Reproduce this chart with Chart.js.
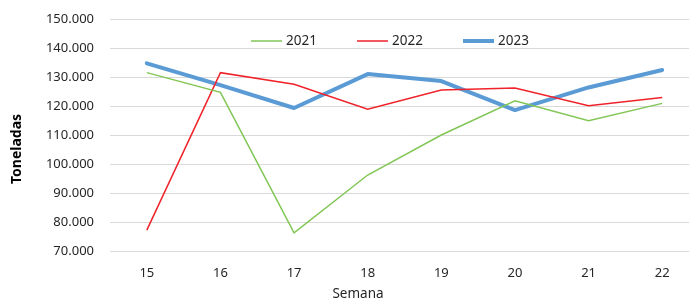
<!DOCTYPE html>
<html>
<head>
<meta charset="utf-8">
<script src="https://cdn.jsdelivr.net/npm/chart.js@4"></script>
<style>
  html, body { margin: 0; padding: 0; background: #fff; overflow: hidden; width: 689px; height: 301px; }
  #wrap { position: relative; width: 700px; height: 301px; }
</style>
</head>
<body>
<div id="wrap"><canvas id="c" width="700" height="301"></canvas></div>
<script>
const weeks = ['15', '16', '17', '18', '19', '20', '21', '22'];
const t2021 = [131500, 124700, 76300, 96200, 110000, 121800, 114900, 120900];
const t2022 = [77200, 131500, 127500, 118900, 125500, 126200, 120100, 122900];
const t2023 = [134700, 127200, 119300, 131000, 128600, 118600, 126400, 132400];
const yTicks = [70000, 80000, 90000, 100000, 110000, 120000, 130000, 140000, 150000];
const xTitle = 'Semana';
const yTitle = 'Toneladas';

const FONT = '"Noto Sans", "Open Sans", sans-serif';
const TXT = '#262626';

function fmt(v) {
  return String(v).replace(/\B(?=(\d{3})+(?!\d))/g, '.');
}

const legendPlugin = {
  id: 'innerLegend',
  afterDatasetsDraw(chart) {
    const ctx = chart.ctx;
    const ds = chart.data.datasets;
    const itemW = 106, lineLen = 31, gap = 4;
    const total = itemW * (ds.length - 1) + lineLen + gap + 31;
    let x = 390 - total / 2;
    const y = 41;
    ctx.save();
    ctx.font = '13.5px ' + FONT;
    ctx.textBaseline = 'middle';
    ctx.textAlign = 'left';
    ds.forEach(d => {
      ctx.strokeStyle = d.borderColor;
      ctx.lineWidth = d.borderWidth;
      ctx.lineCap = 'butt';
      ctx.beginPath();
      ctx.moveTo(x, y);
      ctx.lineTo(x + lineLen, y);
      ctx.stroke();
      ctx.fillStyle = TXT;
      ctx.fillText(d.label, x + lineLen + gap, y + 0.5);
      x += itemW;
    });
    ctx.restore();
  }
};

const axisTitlePlugin = {
  id: 'axisTitles',
  afterDraw(chart) {
    const ctx = chart.ctx;
    ctx.save();
    ctx.font = '13.5px ' + FONT;
    ctx.fillStyle = TXT;
    ctx.textAlign = 'center';
    ctx.textBaseline = 'middle';
    ctx.fillText(xTitle, 358, 294);
    ctx.translate(17.5, 149);
    ctx.rotate(-Math.PI / 2);
    ctx.font = 'bold 14px ' + FONT;
    ctx.fillStyle = '#000';
    ctx.fillText(yTitle, 0, 0);
    ctx.restore();
  }
};

new Chart(document.getElementById('c'), {
  type: 'line',
  data: {
    labels: weeks,
    datasets: [
      { label: '2021', data: t2021, borderColor: '#82c656', borderWidth: 1.5, pointRadius: 0, tension: 0, fill: false },
      { label: '2022', data: t2022, borderColor: '#f0222a', borderWidth: 1.5, pointRadius: 0, tension: 0, fill: false },
      { label: '2023', data: t2023, borderColor: '#5b9bd5', borderWidth: 4, pointRadius: 0, tension: 0, fill: false, borderCapStyle: 'round', borderJoinStyle: 'round' }
    ]
  },
  options: {
    responsive: false,
    animation: false,
    devicePixelRatio: 1,
    layout: { padding: { top: 19, right: 1, bottom: 0, left: 0 } },
    plugins: {
      legend: { display: false },
      tooltip: { enabled: false },
      title: { display: false }
    },
    scales: {
      x: {
        offset: true,
        grid: { display: false, drawTicks: false },
        border: { display: false },
        ticks: { color: TXT, font: { family: FONT, size: 13 }, padding: 14, maxRotation: 0 },
        afterFit(scale) { scale.height = 50; scale.paddingLeft = 0; scale.paddingRight = 0; }
      },
      y: {
        min: 70000,
        max: 150000,
        afterBuildTicks(scale) { scale.ticks = yTicks.map(v => ({ value: v })); },
        grid: { color: '#d9d9d9', lineWidth: 1, drawTicks: false },
        border: { display: false },
        ticks: { color: TXT, font: { family: FONT, size: 13 }, padding: 16, callback: v => fmt(v) },
        afterFit(scale) { scale.width = 110; scale.paddingTop = 0; scale.paddingBottom = 0; }
      }
    }
  },
  plugins: [legendPlugin, axisTitlePlugin]
});
</script>
</body>
</html>
